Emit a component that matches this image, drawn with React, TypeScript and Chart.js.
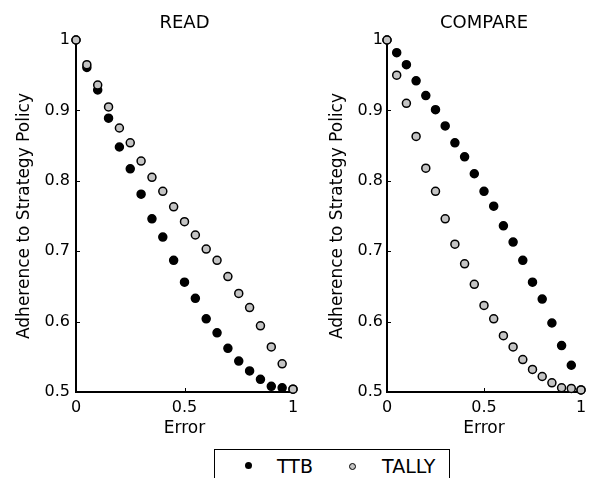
import React, { useEffect, useRef } from "react";
import { Chart, registerables } from "chart.js";

Chart.register(...registerables);

// ---- data ----
const errorLevels = [0, 0.05, 0.1, 0.15, 0.2, 0.25, 0.3, 0.35, 0.4, 0.45, 0.5, 0.55, 0.6, 0.65, 0.7, 0.75, 0.8, 0.85, 0.9, 0.95, 1];
const readTTB = [1.0, 0.961, 0.929, 0.889, 0.848, 0.817, 0.781, 0.746, 0.72, 0.687, 0.656, 0.633, 0.604, 0.584, 0.562, 0.544, 0.53, 0.518, 0.508, 0.506, 0.504];
const readTALLY = [1.0, 0.965, 0.936, 0.905, 0.875, 0.854, 0.828, 0.805, 0.785, 0.763, 0.742, 0.723, 0.703, 0.687, 0.664, 0.64, 0.62, 0.594, 0.564, 0.54, 0.504];
const compareTTB = [1.0, 0.982, 0.965, 0.942, 0.921, 0.901, 0.878, 0.854, 0.834, 0.81, 0.785, 0.764, 0.736, 0.713, 0.687, 0.656, 0.632, 0.598, 0.566, 0.538, 0.503];
const compareTALLY = [1.0, 0.95, 0.91, 0.863, 0.818, 0.785, 0.746, 0.71, 0.682, 0.653, 0.623, 0.604, 0.58, 0.564, 0.546, 0.532, 0.522, 0.513, 0.506, 0.505, 0.503];
const xTickValues = [0, 0.5, 1];
const yTickValues = [0.5, 0.6, 0.7, 0.8, 0.9, 1];
const panelTitles = ["READ", "COMPARE"];
const seriesNames = ["TTB", "TALLY"];
const xAxisTitle = "Error";
const yAxisTitle = "Adherence to Strategy Policy";

const FONT = "'DejaVu Sans', 'Liberation Sans', Arial, sans-serif";
const TALLY_FILL = "#c4c4c4";

const panelTitlePlugin = {
  id: "panelTitle",
  afterDraw(chart: any, _args: any, opts: any) {
    const { ctx, chartArea } = chart;
    ctx.save();
    ctx.fillStyle = "#000";
    ctx.font = `18px ${FONT}`;
    ctx.textAlign = "center";
    ctx.textBaseline = "alphabetic";
    ctx.fillText(opts.text, (chartArea.left + chartArea.right) / 2, 28);
    ctx.restore();
  },
};

const inwardTicksPlugin = {
  id: "inwardTicks",
  beforeDatasetsDraw(chart: any) {
    const { ctx, chartArea, scales } = chart;
    ctx.save();
    ctx.strokeStyle = "#000";
    ctx.lineWidth = 1;
    scales.x.ticks.forEach((t: any) => {
      const px = Math.round(scales.x.getPixelForValue(t.value)) + 0.5;
      ctx.beginPath();
      ctx.moveTo(px, chartArea.bottom);
      ctx.lineTo(px, chartArea.bottom - 4);
      ctx.stroke();
    });
    scales.y.ticks.forEach((t: any) => {
      const py = Math.round(scales.y.getPixelForValue(t.value)) + 0.5;
      ctx.beginPath();
      ctx.moveTo(chartArea.left, py);
      ctx.lineTo(chartArea.left + 4, py);
      ctx.stroke();
    });
    ctx.restore();
  },
};

type Layout = {
  canvasW: number;
  canvasH: number;
  left: number;
  right: number;
  top: number;
  bottom: number;
  yTitlePad: number;
  yTickPad: number;
};

function makeConfig(title: string, ttb: number[], tally: number[], L: Layout): any {
  const tickFont = { family: FONT, size: 16 };
  const titleFont = { family: FONT, size: 17 };
  return {
    type: "scatter",
    data: {
      datasets: [
        {
          label: seriesNames[0],
          data: errorLevels.map((x, i) => ({ x, y: ttb[i] })),
          backgroundColor: "#000",
          borderColor: "#000",
          pointRadius: 4,
          pointBorderWidth: 1.5,
          order: 1,
          clip: false,
        },
        {
          label: seriesNames[1],
          data: errorLevels.map((x, i) => ({ x, y: tally[i] })),
          backgroundColor: TALLY_FILL,
          borderColor: "#000",
          pointRadius: 4,
          pointBorderWidth: 1.5,
          order: 0,
          clip: false,
        },
      ],
    },
    options: {
      animation: false,
      responsive: false,
      maintainAspectRatio: false,
      devicePixelRatio: 1,
      events: [],
      layout: { padding: { top: L.top, left: 0, right: L.canvasW - L.right, bottom: 0 } },
      plugins: {
        legend: { display: false },
        tooltip: { enabled: false },
        title: { display: false },
        panelTitle: { text: title },
      },
      scales: {
        x: {
          type: "linear",
          min: 0,
          max: 1,
          afterBuildTicks: (s: any) => {
            s.ticks = xTickValues.map((v) => ({ value: v }));
          },
          afterFit: (s: any) => {
            s.height = L.canvasH - L.bottom;
          },
          grid: { display: false, drawTicks: false },
          border: { display: true, color: "#000", width: 2 },
          ticks: {
            font: tickFont,
            color: "#000",
            padding: 6,
            maxRotation: 0,
            autoSkip: false,
            callback: (v: any) => String(v),
          },
          title: {
            display: true,
            text: xAxisTitle,
            font: titleFont,
            color: "#000",
            padding: { top: 0, bottom: 1 },
          },
        },
        y: {
          type: "linear",
          min: 0.5,
          max: 1,
          afterBuildTicks: (s: any) => {
            s.ticks = yTickValues.map((v) => ({ value: v }));
          },
          afterFit: (s: any) => {
            s.width = L.left;
          },
          grid: { display: false, drawTicks: false },
          border: { display: true, color: "#000", width: 2 },
          ticks: {
            font: tickFont,
            color: "#000",
            padding: L.yTickPad,
            autoSkip: false,
            callback: (v: any) => String(v),
          },
          title: {
            display: true,
            text: yAxisTitle,
            font: titleFont,
            color: "#000",
            padding: { top: L.yTitlePad, bottom: 0 },
          },
        },
      },
    },
    plugins: [panelTitlePlugin, inwardTicksPlugin],
  };
}

const leftLayout: Layout = { canvasW: 310, canvasH: 440, left: 76, right: 293, top: 40, bottom: 392, yTitlePad: 14, yTickPad: 6 };
const rightLayout: Layout = { canvasW: 284, canvasH: 440, left: 77, right: 271, top: 40, bottom: 392, yTitlePad: 17, yTickPad: 4 };

export default function App() {
  const leftRef = useRef<HTMLCanvasElement>(null);
  const rightRef = useRef<HTMLCanvasElement>(null);

  useEffect(() => {
    const charts: Chart[] = [];
    if (leftRef.current) {
      charts.push(new Chart(leftRef.current, makeConfig(panelTitles[0], readTTB, readTALLY, leftLayout)));
    }
    if (rightRef.current) {
      charts.push(new Chart(rightRef.current, makeConfig(panelTitles[1], compareTTB, compareTALLY, rightLayout)));
    }
    return () => charts.forEach((c) => c.destroy());
  }, []);

  const legendText: React.CSSProperties = {
    position: "absolute",
    top: 457,
    fontFamily: FONT,
    fontSize: 19,
    lineHeight: "19px",
    color: "#000",
    whiteSpace: "nowrap",
  };

  return (
    <div
      style={{
        position: "absolute",
        left: 0,
        top: 0,
        width: 594,
        height: 478,
        overflow: "hidden",
        background: "#fff",
      }}
    >
      <canvas
        ref={leftRef}
        width={leftLayout.canvasW}
        height={leftLayout.canvasH}
        style={{ position: "absolute", left: 0, top: 0, width: leftLayout.canvasW, height: leftLayout.canvasH }}
      />
      <canvas
        ref={rightRef}
        width={rightLayout.canvasW}
        height={rightLayout.canvasH}
        style={{ position: "absolute", left: 310, top: 0, width: rightLayout.canvasW, height: rightLayout.canvasH }}
      />
      <div
        style={{
          position: "absolute",
          left: 214,
          top: 449,
          width: 236,
          height: 40,
          border: "1px solid #000",
          boxSizing: "border-box",
        }}
      />
      <div
        style={{
          position: "absolute",
          left: 245,
          top: 462,
          width: 7,
          height: 7,
          borderRadius: "50%",
          background: "#000",
        }}
      />
      <div style={{ ...legendText, left: 277 }}>{seriesNames[0]}</div>
      <div
        style={{
          position: "absolute",
          left: 349,
          top: 463,
          width: 5,
          height: 5,
          borderRadius: "50%",
          background: TALLY_FILL,
          border: "1px solid #000",
        }}
      />
      <div style={{ ...legendText, left: 382 }}>{seriesNames[1]}</div>
    </div>
  );
}
